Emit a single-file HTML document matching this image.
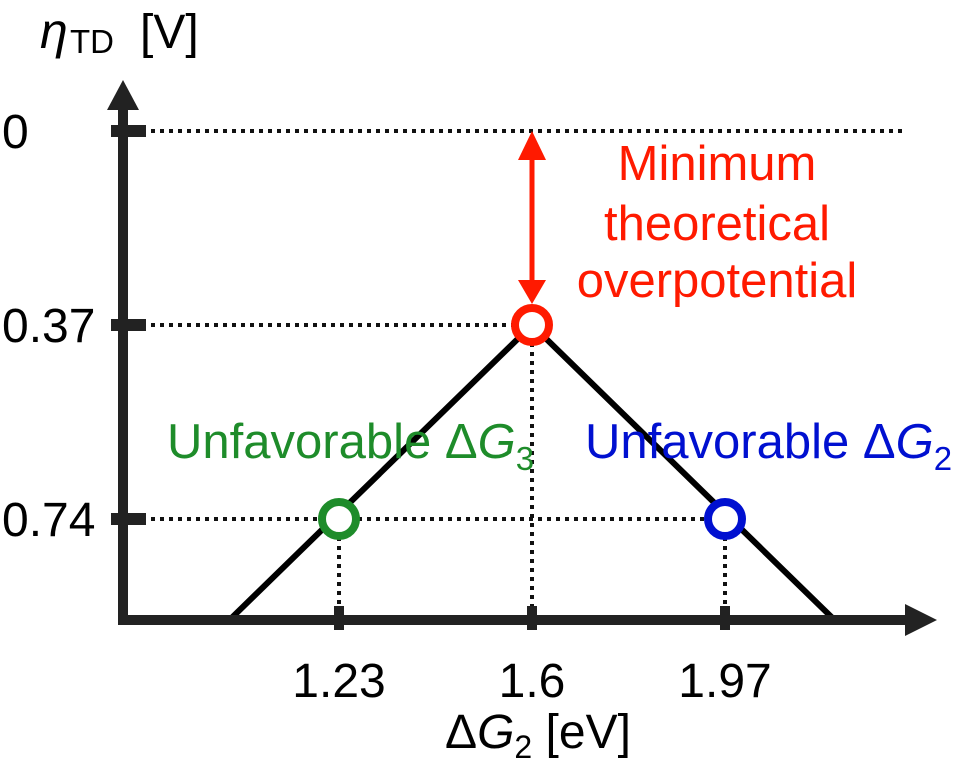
<!DOCTYPE html>
<html><head><meta charset="utf-8"><style>
body{margin:0;background:#fff;width:972px;height:760px;overflow:hidden}
svg text{font-family:"Liberation Sans",sans-serif}
</style></head><body>
<svg width="972" height="760" viewBox="0 0 972 760">
<g id="marks"></g>
</svg>
<script>
const xTickValues=[1.23,1.6,1.97];
const xTickLabels=["1.23","1.6","1.97"];
const yTickValues=[0,0.37,0.74];
const yTickLabels=["0","0.37","0.74"];
const pointX=[1.23,1.6,1.97];
const pointY=[0.74,0.37,0.74];
const pointColors=["#1e8c2a","#ff1a00","#0010d0"];
const pointNames=["point-green-1-23","point-red-1-6","point-blue-1-97"];
const volcanoX=[1.02,1.6,2.18];
const volcanoY=[0.97,0.37,0.97];

const NS="http://www.w3.org/2000/svg";
const xs=v=>339+(v-1.23)*(532-339)/0.37;
const ys=v=>131+v*(325-131)/0.37;
const g=document.getElementById('marks');
function el(t,a,p){const e=document.createElementNS(NS,t);for(const k in a)e.setAttribute(k,a[k]);(p||g).appendChild(e);return e;}
const axisY=620, axisX=123;

yTickValues.forEach((v,i)=>{
 const xe = i===0?905:(i===1?xs(1.6):xs(1.97));
 const l=el('line',{x1:axisX+10,y1:ys(v),x2:xe,y2:ys(v),stroke:'#111','stroke-width':4,'stroke-dasharray':'4 5'});
 
 
});
pointX.forEach((v,i)=>{
 const l=el('line',{x1:xs(v),y1:ys(pointY[i]),x2:xs(v),y2:axisY,stroke:'#111','stroke-width':4,'stroke-dasharray':'4 5'});
 
 
});
const pl=el('polyline',{points:volcanoX.map((v,i)=>xs(v)+','+Math.min(ys(volcanoY[i]),axisY)).join(' '),fill:'none',stroke:'#000','stroke-width':6});


let a=el('line',{x1:axisX,y1:100,x2:axisX,y2:axisY+5,stroke:'#222','stroke-width':10});


a=el('polygon',{points:`${axisX-16},110 ${axisX+16},110 ${axisX},80`,fill:'#222'});


a=el('line',{x1:axisX-5,y1:axisY,x2:910,y2:axisY,stroke:'#222','stroke-width':10});


a=el('polygon',{points:`905,604 905,636 937,620`,fill:'#222'});


yTickValues.forEach((v,i)=>{
 const t=el('rect',{x:axisX-12,y:ys(v)-6,width:35,height:12,fill:'#222'});
 
 
 const tx=el('text',{x:2,y:ys(v)+17,'font-size':48,fill:'#000'});
 tx.textContent=yTickLabels[i];
 
 
});
xTickValues.forEach((v,i)=>{
 const t=el('rect',{x:xs(v)-5,y:axisY-14,width:10,height:24,fill:'#222'});
 
 
 const tx=el('text',{x:xs(v),y:697,'font-size':48,fill:'#000','text-anchor':'middle'});
 tx.textContent=xTickLabels[i];
 
 
});
a=el('line',{x1:xs(1.6),y1:150,x2:xs(1.6),y2:285,stroke:'#ff1a00','stroke-width':5});


a=el('polygon',{points:`${xs(1.6)-14},160 ${xs(1.6)+14},160 ${xs(1.6)},131`,fill:'#ff1a00'});


a=el('polygon',{points:`${xs(1.6)-14},280 ${xs(1.6)+14},280 ${xs(1.6)},304`,fill:'#ff1a00'});


pointX.forEach((v,i)=>{
 const c=el('circle',{cx:xs(v),cy:ys(pointY[i]),r:17,fill:'#fff',stroke:pointColors[i],'stroke-width':8});
 
 
});
</script>
<svg width="972" height="760" style="position:absolute;left:0;top:0">
<text x="40" y="48" font-size="50" font-style="italic">η</text>
<text x="70" y="53" font-size="33">TD</text>
<text x="140" y="48" font-size="48">[V]</text>
<text x="717" y="180" font-size="49" fill="#ff1a00" text-anchor="middle">Minimum</text>
<text x="717" y="240" font-size="49" fill="#ff1a00" text-anchor="middle">theoretical</text>
<text x="717" y="297" font-size="49" fill="#ff1a00" text-anchor="middle">overpotential</text>
<text x="167" y="458" font-size="49" fill="#1e8c2a">Unfavorable Δ<tspan font-style="italic">G</tspan><tspan font-size="33" dy="12">3</tspan></text>
<text x="585" y="458" font-size="49" fill="#0010d0">Unfavorable Δ<tspan font-style="italic">G</tspan><tspan font-size="33" dy="12">2</tspan></text>
<text x="445" y="748" font-size="48">Δ<tspan font-style="italic">G</tspan><tspan font-size="32" dy="10">2</tspan><tspan dy="-10"> [eV]</tspan></text>
</svg>
</body></html>
